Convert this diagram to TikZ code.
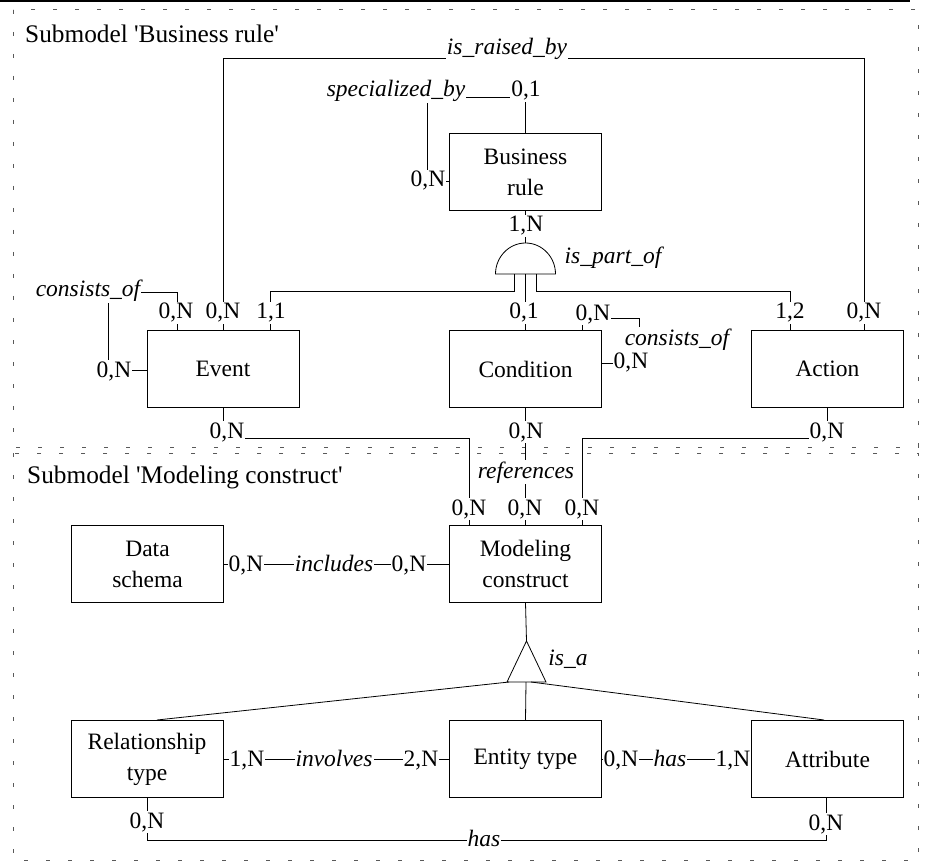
\documentclass[tikz,border=0pt]{standalone}
\usepackage{fontspec}
\setmainfont{Liberation Serif}
\newfontfamily\plainquotes{Liberation Serif}
\begin{document}
\begin{tikzpicture}[x=1pt,y=-1pt,
  every node/.style={font=\fontsize{23.5}{31}\selectfont},
  entity/.style={draw,line width=1pt,minimum width=152pt,minimum height=77pt,align=center,inner sep=0pt},
  card/.style={fill=white,inner sep=1pt,anchor=base},
  relname/.style={card,font=\fontsize{23.5}{31}\selectfont\itshape},
  conn/.style={line width=0.8pt},
  frame/.style={draw=black!65,line width=1pt,dash pattern=on 4pt off 18pt},
  title/.style={anchor=base west,inner sep=0pt,font=\fontsize{25.3}{30}\selectfont\plainquotes}]
\useasboundingbox (0,0) rectangle (928,866);

% page rule and the two submodel frames
\draw[line width=2pt] (0,1.5) -- (910,1.5);
\draw[frame] (13,10) rectangle (918,447);
\draw[frame] (13,453) rectangle (918,860);
\node[title] (t1) at (25,43) {Submodel 'Business rule'};
\node[title] (t2) at (27,483) {Submodel 'Modeling construct'};

% entity types
\node[entity] (br) at (525.5,172.5) {Business\\rule};
\node[entity] (event) at (223,369) {Event};
\node[entity] (cond) at (525.5,369) {Condition};
\node[entity] (action) at (827.5,369) {Action};
\node[entity] (ds) at (147.5,564) {Data\\schema};
\node[entity] (mc) at (525.5,564) {Modeling\\construct};
\node[entity] (rt) at (147,759) {Relationship\\type};
\node[entity] (et) at (525.5,759) {Entity type};
\node[entity] (attr) at (827.5,759) {Attribute};

% is_raised_by
\coordinate (raise) at (864,58);
\draw[conn] (event.north) |- (raise) -- (raise |- action.north);

% specialized_by (recursive on business rule)
\coordinate (specL) at (427,97);
\draw[conn] (br.west |- 0,181) -| (specL) -| (br.north);

% is_part_of aggregation
\coordinate (dome) at (525.5,274);
\draw[conn] (br.south) -- (dome |- 0,243);
\draw[conn] (495.5,274) .. controls (495.5,257) and (509,243) .. (525.5,243)
  .. controls (542,243) and (555.5,257) .. (555.5,274) -- cycle;
\draw[conn] (514,274) |- (270,291) -- (event.north -| 270,0);
\draw[conn] (dome) -- (cond.north);
\draw[conn] (536,274) |- (790,291) -- (action.north -| 790,0);

% consists_of (recursive on condition and on event)
\draw[conn] (cond.east |- 0,363) -| (639,318) -| (cond.north -| 582,0);
\draw[conn] (event.west |- 0,370) -| (108,292) -| (event.north -| 177,0);

% references
\draw[conn] (event.south) |- (469,438) -- (mc.north -| 469,0);
\draw[conn] (cond.south) -- (mc.north);
\draw[conn] (action.south) |- (582,438) -- (mc.north -| 582,0);

% includes
\draw[conn] (ds.east) -- (mc.west);

% is_a generalization
\coordinate (isa) at (526,682);
\draw[conn] (mc.south) -- (526.5,641);
\draw[conn] (526.5,641) -- (507,682) -- (546,682) -- cycle;
\draw[conn] (isa) -- (et.north);
\draw[conn] (509,682) -- (rt.north -| 157,0);
\draw[conn] (531,682) -- (attr.north -| 824,0);

% involves, has
\draw[conn] (rt.east) -- (et.west);
\draw[conn] (et.east) -- (attr.west);
\draw[conn] (rt.south) |- (826,840) -- (attr.south -| 826,0);

% labels: relationship names and cardinalities
\node[relname] (n1) at (507,55) {is\_raised\_by};
\node[card] (c1) at (223,319) {0,N};
\node[card] (c2) at (864,319) {0,N};

\node[relname] (n2) at (396,97) {specialized\_by};
\node[card] (c3) at (526,97) {0,1};
\node[card] (c4) at (428,187) {0,N};

\node[card] (c5) at (526,232) {1,N};
\node[relname] (n3) at (613,264) {is\_part\_of};
\node[card] (c6) at (271,319) {1,1};
\node[card] (c7) at (524,319) {0,1};
\node[card] (c8) at (790,319) {1,2};

\node[relname] (n4) at (88,297) {consists\_of};
\node[card] (c9) at (176,319) {0,N};
\node[card] (c10) at (114,377) {0,N};

\node[card] (c11) at (593,320) {0,N};
\node[relname] (n5) at (677,345) {consists\_of};
\node[card] (c12) at (631,368) {0,N};

\node[card] (c13) at (227,438) {0,N};
\node[card] (c14) at (526,438) {0,N};
\node[card] (c15) at (827,438) {0,N};
\node[relname] (n6) at (526,478) {references};
\node[card] (c16) at (469,515) {0,N};
\node[card] (c17) at (525,515) {0,N};
\node[card] (c18) at (582,515) {0,N};

\node[card] (c19) at (246,571) {0,N};
\node[relname] (n7) at (334,571) {includes};
\node[card] (c20) at (409,571) {0,N};

\node[relname] (n8) at (568,665) {is\_a};

\node[card] (c21) at (247,766) {1,N};
\node[relname] (n9) at (334,766) {involves};
\node[card] (c22) at (421,766) {2,N};

\node[card] (c23) at (621,766) {0,N};
\node[relname] (n10) at (670,766) {has};
\node[card] (c24) at (733,766) {1,N};

\node[card] (c25) at (147,828) {0,N};
\node[relname] (n11) at (484,846) {has};
\node[card] (c26) at (826,830) {0,N};
\end{tikzpicture}
\end{document}
